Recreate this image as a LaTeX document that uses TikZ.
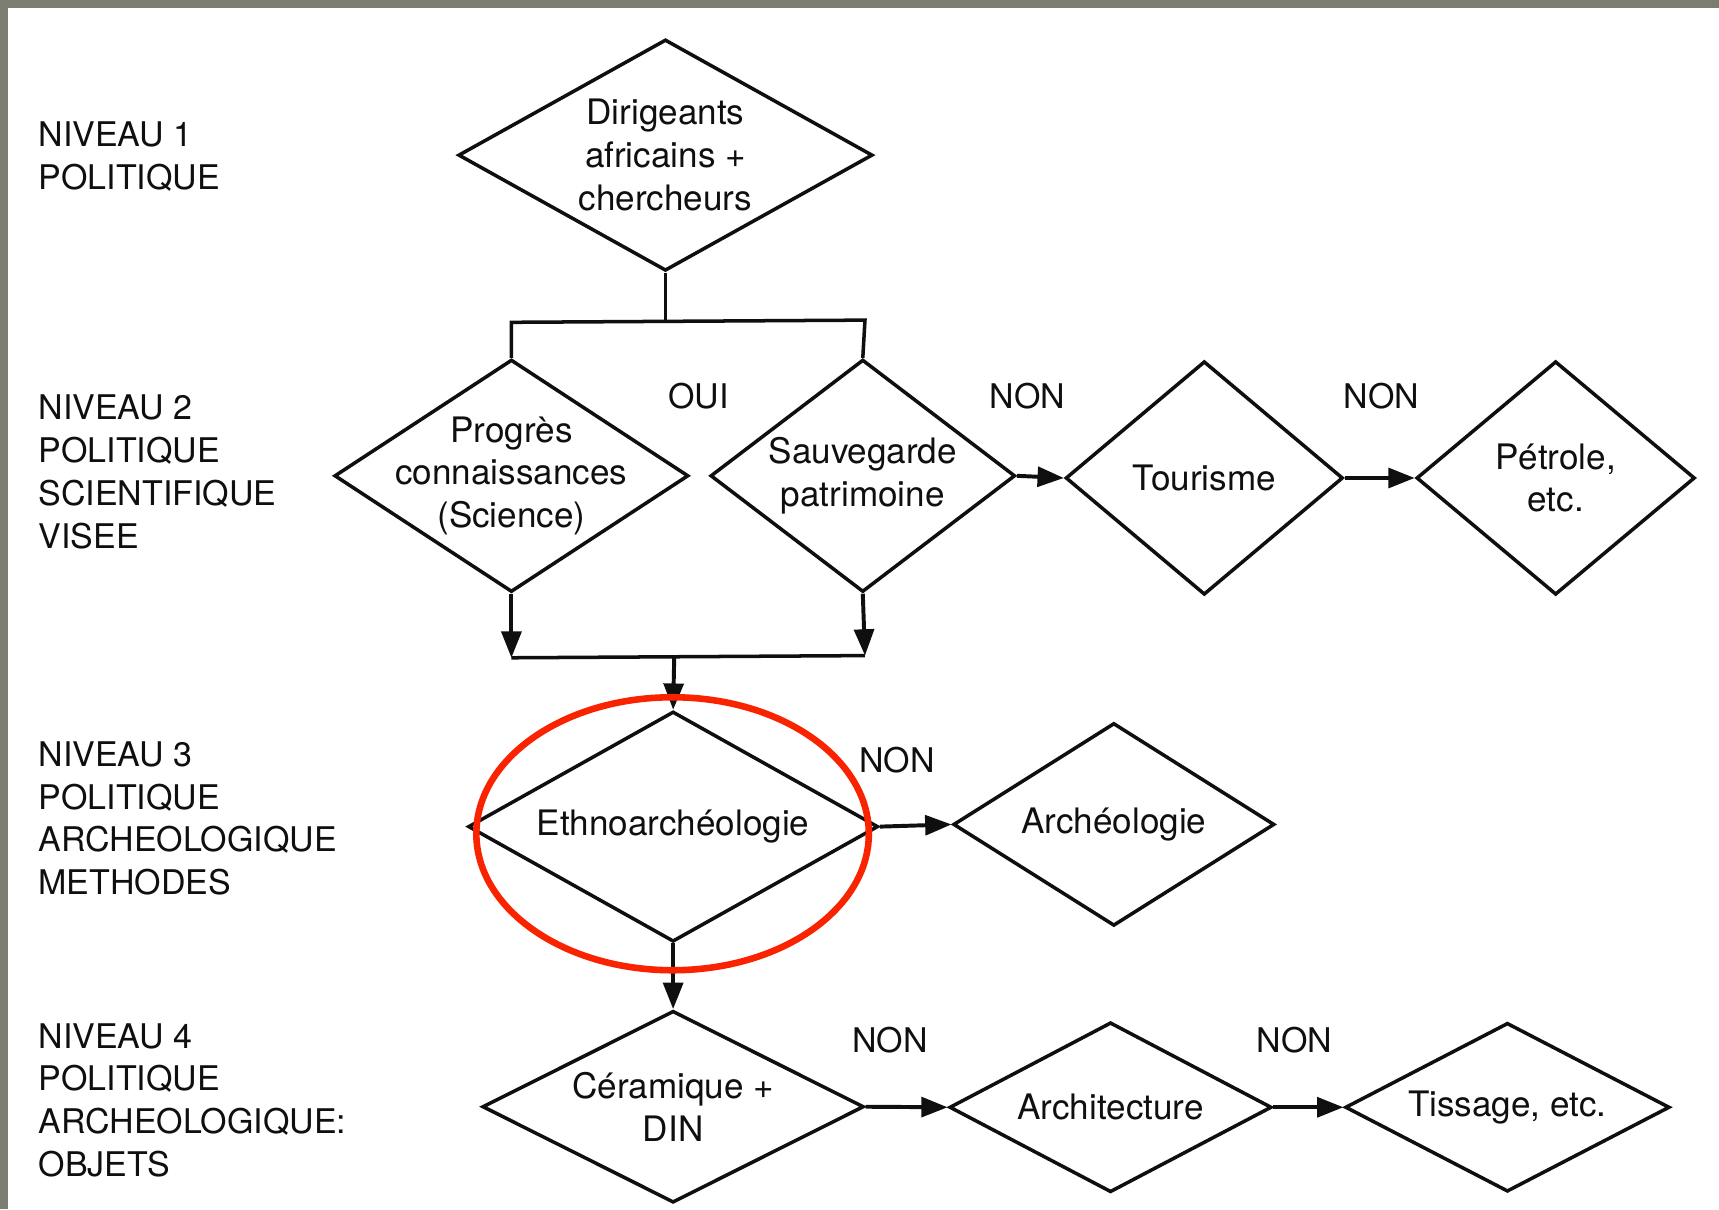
\documentclass[tikz,border=0pt]{standalone}
\usepackage{fontspec}
\setmainfont{TeX Gyre Heros}
\usetikzlibrary{shapes.geometric,arrows.meta}
\definecolor{framegray}{RGB}{123,125,112}
\definecolor{ringred}{RGB}{250,35,0}
\definecolor{ink}{RGB}{15,15,15}
\begin{document}
\begin{tikzpicture}[x=1pt,y=-1pt,
  dia/.style={diamond, draw=ink, line width=3.2pt, inner sep=0pt},
  txt/.style={font=\fontsize{32}{39}\selectfont, align=center, inner sep=0pt, text=ink},
  lvl/.style={font=\fontsize{31}{39}\selectfont, align=left, anchor=west, inner sep=0pt, text=ink},
  lab/.style={font=\fontsize{31}{39}\selectfont, inner sep=0pt, text=ink},
  conn/.style={draw=ink, line width=3.2pt},
  arr/.style={draw=ink, line width=3.6pt, -{Triangle[length=24pt,width=18pt]}},
]
\useasboundingbox (0,0) rectangle (1568,1103);
\fill[white] (0,0) rectangle (1568,1103);
\fill[framegray] (0,0) rectangle (1568,7.5);
\fill[framegray] (0,0) rectangle (7,1103);

% level labels
\node[lvl] (L1) at (35,142.5) {NIVEAU 1\\POLITIQUE};
\node[lvl] (L2) at (35,430.5) {NIVEAU 2\\POLITIQUE\\SCIENTIFIQUE\\VISEE};
\node[lvl] (L3) at (35,746.5) {NIVEAU 3\\POLITIQUE\\ARCHEOLOGIQUE\\METHODES};
\node[lvl] (L4) at (35,1003.5) {NIVEAU 4\\POLITIQUE\\ARCHEOLOGIQUE:\\OBJETS};

% diamonds
\node[dia, minimum width=378pt, minimum height=211pt,
  label={[txt]center:{Dirigeants\\africains +\\chercheurs}}] (D1) at (607,141.5) {};
\node[dia, minimum width=323pt, minimum height=212pt,
  label={[txt]center:{Progrès\\connaissances\\(Science)}}] (D2) at (466.5,434) {};
\node[dia, minimum width=278pt, minimum height=212pt,
  label={[txt]center:{Sauvegarde\\patrimoine}}] (D3) at (787,434) {};
\node[dia, minimum width=253pt, minimum height=213pt,
  label={[txt]center:{Tourisme}}] (D4) at (1098.5,436) {};
\node[dia, minimum width=254pt, minimum height=213pt,
  label={[txt]center:{Pétrole,\\etc.}}] (D5) at (1419,436) {};
\node[dia, minimum width=374pt, minimum height=210pt,
  label={[txt]center:{Ethnoarchéologie}}] (D6) at (614,754) {};
\node[dia, minimum width=293pt, minimum height=185pt,
  label={[txt]center:{Archéologie}}] (D7) at (1016,752) {};
\node[dia, minimum width=348pt, minimum height=175pt,
  label={[txt]center:{Céramique +\\DIN}}] (D8) at (614,1009.5) {};
\node[dia, minimum width=294pt, minimum height=155pt,
  label={[txt]center:{Architecture}}] (D9) at (1013,1010) {};
\node[dia, minimum width=296pt, minimum height=154pt,
  label={[txt]center:{Tissage, etc.}}] (D10) at (1375,1010) {};

% edge labels
\node[lab] (oui) at (637,361) {OUI};
\node[lab] (n1) at (937,361) {NON};
\node[lab] (n2) at (1260,361) {NON};
\node[lab] (n3) at (818,693) {NON};
\node[lab] (n4) at (812,949) {NON};
\node[lab] (n5) at (1181,949) {NON};

% junctions
\coordinate (jl) at (466.5,294);
\coordinate (jr) at (789,292);
\coordinate (jt) at (607,293);
\coordinate (bl) at (466.5,600);
\coordinate (br) at (789,598);
\coordinate (bm) at (615,599);

% connectors
\draw[conn] (D1.south) -- (jt);
\draw[conn] (D2.north) -- (jl) -- (jr) -- (D3.north);
\draw[arr] (D2.south) -- (bl);
\draw[arr] (D3.south) -- (br);
\draw[conn] (bl) -- (br);
\draw[arr] (bm) -- (D6.north);
\draw[arr] (D3.east) -- (D4.west);
\draw[arr] (D4.east) -- (D5.west);
\draw[arr] (D6.east) -- (D7.west);
\draw[arr] (D6.south) -- (D8.north);
\draw[arr] (D8.east) -- (D9.west);
\draw[arr] (D9.east) -- (D10.west);

% red highlight
\node[ellipse, draw=ringred, line width=6pt, minimum width=358pt, minimum height=249pt, inner sep=0pt] (E) at (613.5,760.5) {};
\end{tikzpicture}
\end{document}
